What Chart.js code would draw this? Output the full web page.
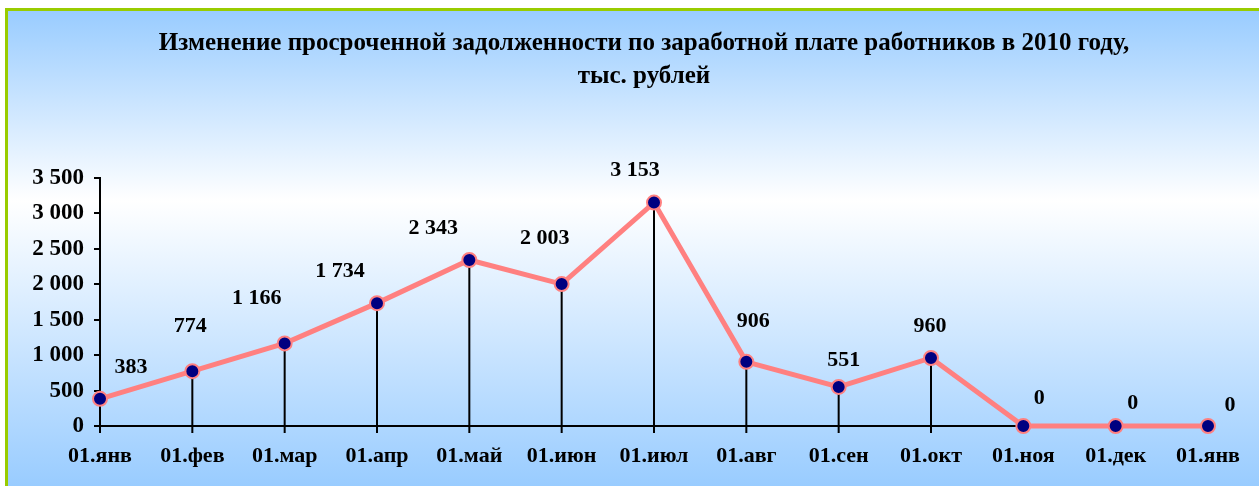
<!DOCTYPE html>
<html><head><meta charset="utf-8">
<script src="https://cdn.jsdelivr.net/npm/chart.js@4.4.1/dist/chart.umd.min.js"></script>
<style>html,body{margin:0;padding:0;background:#fff;overflow:hidden}#wrap{width:1259px;height:486px}</style>
</head><body><div id="wrap"><canvas id="c" width="1259" height="486"></canvas></div>
<script>
const categories = ['01.янв','01.фев','01.мар','01.апр','01.май','01.июн','01.июл','01.авг','01.сен','01.окт','01.ноя','01.дек','01.янв'];
const debtValues = [383, 774, 1166, 1734, 2343, 2003, 3153, 906, 551, 960, 0, 0, 0];
const yMin = 0, yMax = 3500, yStep = 500;
const titleLines = ['Изменение просроченной задолженности по заработной плате работников в 2010 году,', 'тыс. рублей'];

const SERIF = '"Liberation Serif", "Times New Roman", serif';
const fmt = v => String(v).replace(/\B(?=(\d{3})+(?!\d))/g, ' ');

const bgPlugin = {
  id: 'bg',
  beforeDraw(chart) {
    const {ctx, width, height} = chart;
    ctx.save();
    ctx.fillStyle = '#ffffff';
    ctx.fillRect(0, 0, width, height);
    const g = ctx.createLinearGradient(0, 11, 0, height);
    g.addColorStop(0, '#99CCFF');
    g.addColorStop(0.4, '#FFFFFF');
    g.addColorStop(1, '#99CCFF');
    ctx.fillStyle = g;
    ctx.fillRect(8, 11, width - 8, height - 11);
    ctx.fillStyle = '#99CC00';
    ctx.fillRect(5, 8, width - 5, 3);
    ctx.fillRect(5, 8, 3, height - 8);
    // title
    ctx.fillStyle = '#000';
    ctx.textAlign = 'center';
    ctx.textBaseline = 'middle';
    ctx.font = 'bold 25px ' + SERIF;
    ctx.fillText(titleLines[0], 644, 44);
    ctx.fillText(titleLines[1], 644, 77);
    ctx.restore();
  }
};

const axisPlugin = {
  id: 'xaxisCustom',
  beforeDatasetsDraw(chart, args, opts) {
    const {ctx} = chart;
    const xs = chart.scales.x, ys = chart.scales.y;
    const y0 = ys.getPixelForValue(0);
    ctx.save();
    ctx.strokeStyle = '#000';
    ctx.lineWidth = 2;
    ctx.beginPath();
    debtValues.forEach((v, i) => {
      if (i > 0 && v > 0) {
        const x = xs.getPixelForValue(i);
        ctx.moveTo(x, ys.getPixelForValue(v));
        ctx.lineTo(x, y0);
      }
    });
    ctx.moveTo(xs.getPixelForValue(0), y0);
    ctx.lineTo(xs.getPixelForValue(opts.axisEnd), y0);
    for (let i = 0; i <= opts.axisEnd; i++) {
      const x = xs.getPixelForValue(i);
      ctx.moveTo(x, y0);
      ctx.lineTo(x, y0 + 7);
    }
    ctx.stroke();
    ctx.restore();
  }
};

const labelPlugin = {
  id: 'valueLabels',
  afterDatasetsDraw(chart, args, opts) {
    const {ctx} = chart;
    const meta = chart.getDatasetMeta(0);
    ctx.save();
    ctx.fillStyle = '#000';
    ctx.font = 'bold 22px ' + SERIF;
    ctx.textAlign = 'center';
    ctx.textBaseline = 'middle';
    meta.data.forEach((pt, i) => {
      const o = opts.offsets[i];
      ctx.fillText(fmt(debtValues[i]), pt.x + o[0], pt.y + o[1]);
    });
    ctx.restore();
  }
};

new Chart(document.getElementById('c'), {
  type: 'line',
  data: {
    labels: categories,
    datasets: [{
      data: debtValues,
      borderColor: '#FF8080',
      borderWidth: 5,
      pointRadius: 7,
      pointHoverRadius: 7,
      pointBackgroundColor: '#000080',
      pointBorderColor: '#FF8080',
      pointBorderWidth: 2,
      tension: 0,
      clip: false
    }]
  },
  options: {
    responsive: false,
    animation: false,
    events: [],
    layout: {padding: {top: 178, right: 51, left: 0, bottom: 0}},
    plugins: {
      legend: {display: false},
      tooltip: {enabled: false},
      title: {display: false},
      xaxisCustom: {axisEnd: 10},
      valueLabels: {
        offsets: [[31,-32],[-2,-45],[-28,-45],[-37,-32],[-36,-32],[-17,-46],[-19,-32],[7,-40],[5,-27],[-1,-32],[16,-28],[17,-23],[22,-21]]
      }
    },
    scales: {
      x: {
        offset: false,
        grid: {display: false, drawTicks: false},
        border: {display: false},
        ticks: {color: '#000', font: {family: SERIF, size: 22, weight: 'bold'}, padding: 17, maxRotation: 0, autoSkip: false},
        afterFit(s) { s.height = 60; }
      },
      y: {
        min: yMin, max: yMax,
        grid: {drawOnChartArea: false, drawTicks: true, tickLength: 6, color: '#000', lineWidth: 2},
        border: {display: true, color: '#000', width: 2},
        ticks: {stepSize: yStep, color: '#000', font: {family: SERIF, size: 23, weight: 'bold'}, padding: 10, callback: v => fmt(v)},
        afterFit(s) { s.width = 100; }
      }
    }
  },
  plugins: [bgPlugin, axisPlugin, labelPlugin]
});
</script>
</body></html>
